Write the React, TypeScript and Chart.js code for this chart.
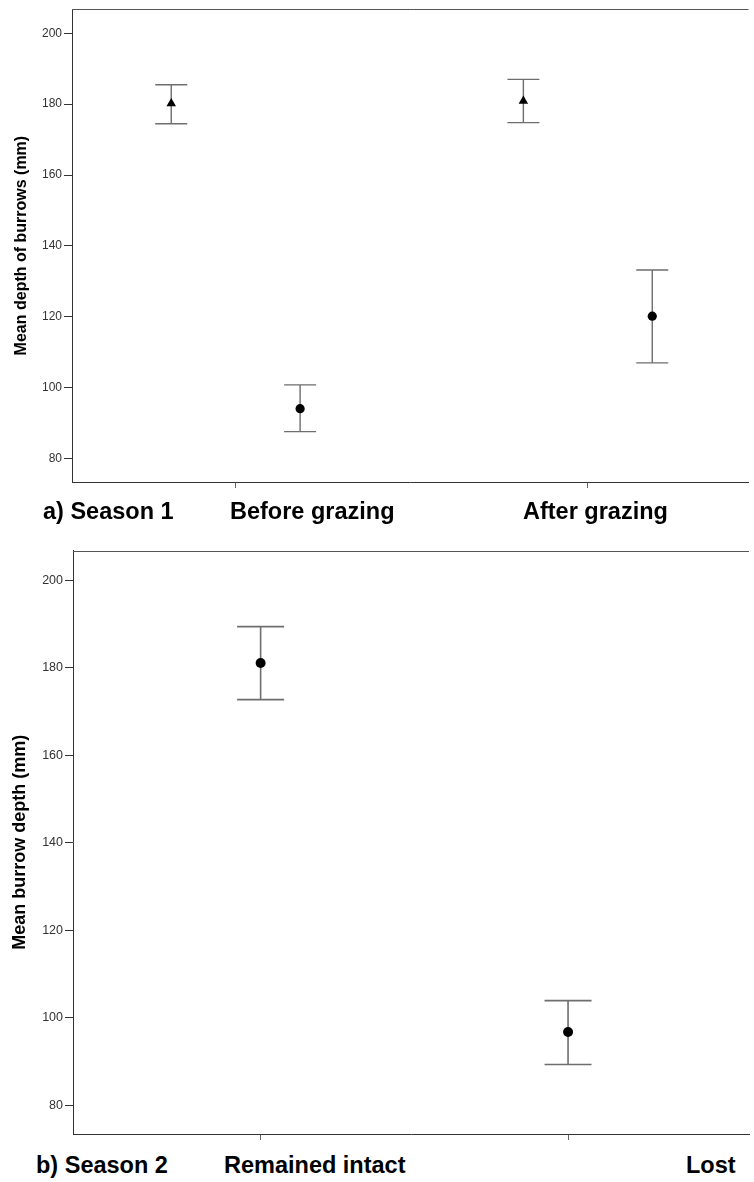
import React, { useEffect, useRef } from "react";
import { Chart, registerables } from "chart.js";

Chart.register(...registerables);

const FONT = "'Liberation Sans', Arial, Helvetica, sans-serif";

// Season 1: mean burrow depth (mm) with error bars, two groups per grazing period
const season1Categories = ["Before grazing", "After grazing"];
const season1TriangleMean = [180.2, 180.9];
const season1TriangleLow = [174.5, 174.8];
const season1TriangleHigh = [185.5, 187.0];
const season1CircleMean = [94.1, 120.2];
const season1CircleLow = [87.6, 107.0];
const season1CircleHigh = [100.8, 133.2];

// Season 2: mean burrow depth (mm) for burrows that stayed intact vs were lost
const season2Categories = ["Remained intact", "Lost"];
const season2Mean = [181.1, 96.7];
const season2Low = [172.7, 89.3];
const season2High = [189.4, 103.9];

const depthTicks = [80, 100, 120, 140, 160, 180, 200];
const depthMin = 73.4;
const depthMax = 206.8;

type Series = {
  mean: number[];
  low: number[];
  high: number[];
  offset: number;
  style: "circle" | "triangle";
  radius: number;
};

type PanelProps = {
  top: number;
  height: number;
  padTop: number;
  xAxisHeight: number;
  yAxisWidth: number;
  xMin: number;
  xMax: number;
  yTitle: string;
  yTitleSize: number;
  yTitlePad: number;
  tickSize: number;
  capHalf: number;
  barWidth: number;
  series: Series[];
};

const errorBarPlugin = {
  id: "errorBars",
  beforeDatasetsDraw(chart: any, _args: any, opts: any) {
    const { ctx } = chart;
    const x = chart.scales.x;
    const y = chart.scales.y;
    ctx.save();
    ctx.strokeStyle = opts.color;
    ctx.lineWidth = opts.width;
    chart.data.datasets.forEach((ds: any) => {
      ds.data.forEach((p: any) => {
        const px = x.getPixelForValue(p.x);
        const yl = y.getPixelForValue(p.low);
        const yh = y.getPixelForValue(p.high);
        ctx.beginPath();
        ctx.moveTo(px, yh);
        ctx.lineTo(px, yl);
        ctx.moveTo(px - opts.cap, yh);
        ctx.lineTo(px + opts.cap, yh);
        ctx.moveTo(px - opts.cap, yl);
        ctx.lineTo(px + opts.cap, yl);
        ctx.stroke();
      });
    });
    ctx.restore();
  },
  afterDraw(chart: any) {
    // frame line along the top of the plot area
    const { ctx, chartArea } = chart;
    ctx.save();
    ctx.strokeStyle = "#555";
    ctx.lineWidth = 1;
    const yy = Math.round(chartArea.top) + 0.5;
    ctx.beginPath();
    ctx.moveTo(chartArea.left, yy);
    ctx.lineTo(chartArea.right, yy);
    ctx.stroke();
    ctx.restore();
  },
};

function Panel(props: PanelProps) {
  const ref = useRef<HTMLCanvasElement | null>(null);

  useEffect(() => {
    if (!ref.current) return;
    const datasets = props.series.map((s) => ({
      data: s.mean.map((m, i) => ({
        x: i + 1 + s.offset,
        y: m,
        low: s.low[i],
        high: s.high[i],
      })),
      pointStyle: s.style,
      pointRadius: s.radius,
      pointBackgroundColor: "#000",
      pointBorderColor: "#000",
      pointBorderWidth: 0,
      showLine: false,
    }));

    const chart = new Chart(ref.current, {
      type: "scatter",
      data: { datasets },
      plugins: [errorBarPlugin],
      options: {
        animation: false,
        responsive: false,
        events: [],
        layout: { padding: { top: props.padTop, left: 0, right: 0, bottom: 0 } },
        plugins: {
          legend: { display: false },
          tooltip: { enabled: false },
          errorBars: { color: "#6e6e6e", width: props.barWidth, cap: props.capHalf },
        } as any,
        scales: {
          x: {
            type: "linear",
            min: props.xMin,
            max: props.xMax,
            afterBuildTicks: (scale: any) => {
              scale.ticks = [{ value: 1 }, { value: 2 }];
            },
            afterFit: (scale: any) => {
              scale.height = props.xAxisHeight;
            },
            ticks: { display: false },
            grid: {
              drawOnChartArea: false,
              drawTicks: true,
              tickLength: 6,
              color: "#666",
              lineWidth: 1,
            },
            border: { display: true, color: "#333", width: 1 },
          },
          y: {
            type: "linear",
            min: depthMin,
            max: depthMax,
            afterBuildTicks: (scale: any) => {
              scale.ticks = depthTicks.map((v) => ({ value: v }));
            },
            afterFit: (scale: any) => {
              scale.width = props.yAxisWidth;
            },
            ticks: {
              color: "#333",
              padding: 2,
              font: { family: FONT, size: props.tickSize },
            },
            grid: {
              drawOnChartArea: false,
              drawTicks: true,
              tickLength: 8,
              color: "#333",
              lineWidth: 1,
            },
            border: { display: true, color: "#333", width: 1 },
            title: {
              display: true,
              text: props.yTitle,
              color: "#000",
              padding: { top: props.yTitlePad, bottom: 0 },
              font: { family: FONT, size: props.yTitleSize, weight: "bold" },
            },
          },
        },
      } as any,
    });
    return () => chart.destroy();
  }, []);

  return (
    <canvas
      ref={ref}
      width={754}
      height={props.height}
      style={{
        position: "absolute",
        left: 0,
        top: props.top,
        width: 754,
        height: props.height,
        display: "block",
      }}
    />
  );
}

const LABEL_SIZE = 23.5;

function Label({ text, left, baseline }: { text: string; left: number; baseline: number }) {
  return (
    <div
      style={{
        position: "absolute",
        left,
        top: baseline - 0.8465 * LABEL_SIZE,
        fontFamily: FONT,
        fontWeight: "bold",
        fontSize: LABEL_SIZE,
        lineHeight: 1,
        whiteSpace: "nowrap",
        color: "#000",
      }}
    >
      {text}
    </div>
  );
}

export default function App() {
  return (
    <div
      style={{
        position: "absolute",
        left: 0,
        top: 0,
        width: 754,
        height: 1182,
        background: "#fff",
        overflow: "hidden",
      }}
    >
      <Panel
        top={0}
        height={500}
        padTop={9}
        xAxisHeight={18}
        yAxisWidth={72}
        xMin={0.5352}
        xMax={2.4563}
        yTitle="Mean depth of burrows (mm)"
        yTitleSize={16}
        yTitlePad={11.5}
        tickSize={12}
        capHalf={16}
        barWidth={1.4}
        series={[
          {
            mean: season1TriangleMean,
            low: season1TriangleLow,
            high: season1TriangleHigh,
            offset: -0.183,
            style: "triangle",
            radius: 5.5,
          },
          {
            mean: season1CircleMean,
            low: season1CircleLow,
            high: season1CircleHigh,
            offset: 0.183,
            style: "circle",
            radius: 4.6,
          },
        ]}
      />
      <Label text="a) Season 1" left={43} baseline={520} />
      <Label text={season1Categories[0]} left={230} baseline={520} />
      <Label text={season1Categories[1]} left={523} baseline={520} />

      <Panel
        top={540}
        height={610}
        padTop={10.5}
        xAxisHeight={16}
        yAxisWidth={73}
        xMin={0.3897}
        xMax={2.5886}
        yTitle="Mean burrow depth (mm)"
        yTitleSize={18}
        yTitlePad={9.5}
        tickSize={12.5}
        capHalf={23.5}
        barWidth={1.6}
        series={[
          {
            mean: season2Mean,
            low: season2Low,
            high: season2High,
            offset: 0,
            style: "circle",
            radius: 5,
          },
        ]}
      />
      <Label text="b) Season 2" left={36} baseline={1173.5} />
      <Label text={season2Categories[0]} left={224} baseline={1173.5} />
      <Label text={season2Categories[1]} left={686} baseline={1173.5} />
    </div>
  );
}
